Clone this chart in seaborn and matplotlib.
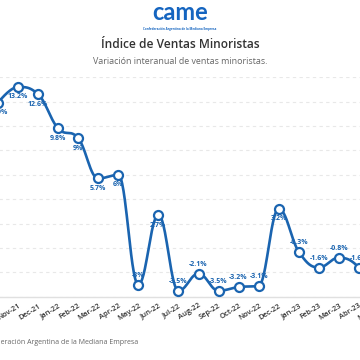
import numpy as np
import pandas as pd
import matplotlib
matplotlib.use("Agg")
import matplotlib.pyplot as plt
import seaborn as sns

months = ["Oct-21", "Nov-21", "Dec-21", "Jan-22", "Feb-22", "Mar-22", "Apr-22",
          "May-22", "Jun-22", "Jul-22", "Aug-22", "Sep-22", "Oct-22", "Nov-22",
          "Dec-22", "Jan-23", "Feb-23", "Mar-23", "Abr-23", "May-23"]
values = [11.9, 13.2, 12.6, 9.8, 9.0, 5.7, 6.0, -3.0, 2.7, -3.5, -2.1, -3.5,
          -3.2, -3.1, 3.2, -0.3, -1.6, -0.8, -1.6, -4.1]
labels = ["11.9%", "13.2%", "12.6%", "9.8%", "9%", "5.7%", "6%", "-3%", "2.7%",
          "-3.5%", "-2.1%", "-3.5%", "-3.2%", "-3.1%", "3.2%", "-0.3%", "-1.6%",
          "-0.8%", "-1.6%", "-4.1%"]
y_ticks = [-4, -2, 0, 2, 4, 6, 8, 10, 12, 14]

title = "Índice de Ventas Minoristas"
subtitle = "Variación interanual de ventas minoristas."
source = "Confederación Argentina de la Mediana Empresa"

BLUE = "#1a64b0"

sns.set_theme(style="white")
plt.rcParams['font.family'] = ['Open Sans', 'DejaVu Sans']

df = pd.DataFrame({"idx": np.arange(len(months)), "value": values, "month": months})


def spline_path(xs, ys, smoothing=1.5, n=30):
    """Highcharts-like spline through the points (bezier segments)."""
    xs = np.asarray(xs, float)
    ys = np.asarray(ys, float)
    m = len(xs)
    left = [(xs[i], ys[i]) for i in range(m)]
    right = [(xs[i], ys[i]) for i in range(m)]
    d = smoothing + 1
    for i in range(1, m - 1):
        x0, y0 = xs[i - 1], ys[i - 1]
        x1, y1 = xs[i], ys[i]
        x2, y2 = xs[i + 1], ys[i + 1]
        lcx = (smoothing * x1 + x0) / d
        lcy = (smoothing * y1 + y0) / d
        rcx = (smoothing * x1 + x2) / d
        rcy = (smoothing * y1 + y2) / d
        corr = ((rcy - lcy) * (rcx - x1)) / (rcx - lcx) + y1 - rcy
        lcy += corr
        rcy += corr
        if lcy > y0 and lcy > y1:
            lcy = max(y0, y1)
            rcy = 2 * y1 - lcy
        elif lcy < y0 and lcy < y1:
            lcy = min(y0, y1)
            rcy = 2 * y1 - lcy
        if rcy > y2 and rcy > y1:
            rcy = max(y1, y2)
            lcy = 2 * y1 - rcy
        elif rcy < y2 and rcy < y1:
            rcy = min(y1, y2)
            lcy = 2 * y1 - rcy
        left[i] = (lcx, lcy)
        right[i] = (rcx, rcy)
    px, py = [], []
    t = np.linspace(0, 1, n)
    for i in range(1, m):
        p0 = np.array([xs[i - 1], ys[i - 1]])
        p1 = np.array(right[i - 1])
        p2 = np.array(left[i])
        p3 = np.array([xs[i], ys[i]])
        seg = ((1 - t)[:, None] ** 3 * p0 + 3 * ((1 - t) ** 2 * t)[:, None] * p1
               + 3 * ((1 - t) * t ** 2)[:, None] * p2 + (t ** 3)[:, None] * p3)
        px.extend(seg[:, 0])
        py.extend(seg[:, 1])
    return np.array(px), np.array(py)


fig = plt.figure(figsize=(3.6, 3.6), dpi=100)
fig.patch.set_facecolor("white")
# axes extends beyond figure edges (cropped chart)
ax = fig.add_axes([-22.05 / 360, (360 - 296.8) / 360, 421.05 / 360, 219.6 / 360])
ax.set_facecolor("white")

cx, cy = spline_path(df["idx"], df["value"])
curve = pd.DataFrame({"x": cx, "y": cy})
sns.lineplot(data=curve, x="x", y="y", sort=False, estimator=None, ax=ax,
             color=BLUE, linewidth=1.9, zorder=3)
sns.scatterplot(data=df, x="idx", y="value", ax=ax, s=42, color="white",
                edgecolor=BLUE, linewidth=1.6, zorder=4)

for i, (v, lab) in enumerate(zip(values, labels)):
    off = -10 if v >= 0 else 9.5
    ax.annotate(lab, (i, v), xytext=(0, off * 0.72), textcoords="offset points",
                ha="center", va="center", fontsize=5.0, fontweight="bold",
                color=BLUE, zorder=5)

ax.set_xlim(-1, 20)
ax.set_ylim(-4, 14)
ax.set_yticks(y_ticks)
ax.set_yticklabels([])
ax.tick_params(axis="y", length=0)
ax.yaxis.grid(True, color="#e8e8e8", linestyle=(0, (3, 3)), linewidth=0.8)
ax.xaxis.grid(False)
ax.set_xticks(df["idx"])
ax.set_xticklabels(months, rotation=32, ha="right", rotation_mode="anchor",
                   fontsize=5.4, color="#333333", fontweight="semibold")
ax.tick_params(axis="x", length=0, pad=4)
ax.set_xlabel("")
ax.set_ylabel("")
for s in ["top", "left", "right"]:
    ax.spines[s].set_visible(False)
ax.spines["bottom"].set_color("#e0e0e0")
ax.spines["bottom"].set_linewidth(1.0)

# Header: logo, title, subtitle
fig.text(0.5, 1 - 12 / 360, "came", ha="center", va="center", fontsize=17,
         fontweight="bold", color="#1565c0", family=["Lato", "DejaVu Sans"])
fig.text(0.5, 1 - 29 / 360, source, ha="center", va="center", fontsize=2.2,
         fontweight="bold", color="#1565c0")
fig.text(0.5, 1 - 44 / 360, title, ha="center", va="center", fontsize=8.6,
         fontweight="semibold", color="#333333")
fig.text(0.5, 1 - 61 / 360, subtitle, ha="center", va="center", fontsize=6.4,
         color="#666666")
fig.text(138 / 360, 1 - 342 / 360, source, ha="right", va="center",
         fontsize=5.0, color="#666666")

fig.savefig("out.png", dpi=100, facecolor="white")
